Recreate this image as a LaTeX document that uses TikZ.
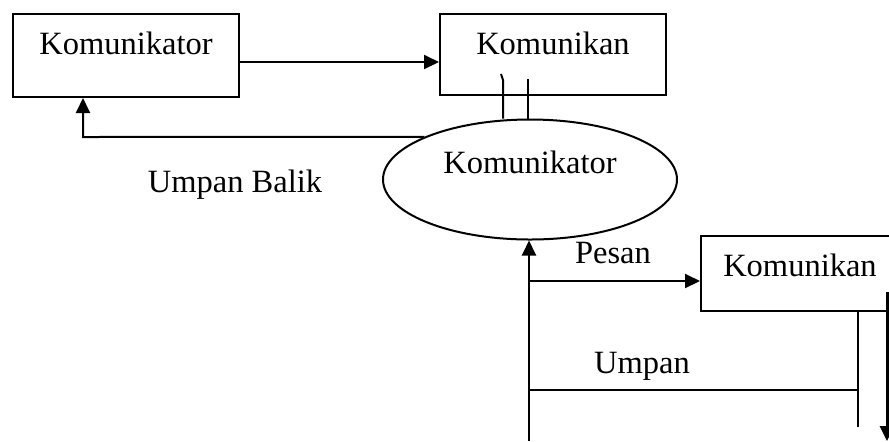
\documentclass[tikz,border=0pt]{standalone}
\usepackage{fontspec}
\setmainfont{Liberation Serif}
\usetikzlibrary{calc, arrows.meta, shapes.geometric}

\tikzset{
    kotak/.style={draw, line width=1pt, inner sep=0pt, minimum width=113pt,
        text height=20pt, text depth=20.5pt, anchor=north west},
    elips/.style={draw, ellipse, line width=1pt, inner sep=0pt,
        minimum width=147pt, minimum height=60pt, text height=10pt, text depth=16.5pt},
    panah/.style={-{Triangle[length=7.5pt, width=7pt]}, line width=1pt},
    garis/.style={line width=1pt},
    teks/.style={anchor=base, inner sep=0pt}
}

\begin{document}
\begin{tikzpicture}[x=0.5pt, y=-0.5pt, font=\fontsize{16.25}{19}\selectfont]
    % Define the frame of the picture
    \clip (0,0) rectangle (889,441);

    % The boxes and the ellipse
    \node[kotak, text depth=21.5pt] (kom1) at (12,13) {Komunikator};
    \node[kotak] (kom2) at (439,13) {Komunikan};
    \node[elips] (kom3) at (530,179.5) {Komunikator};
    \node[kotak, minimum width=99pt, text depth=17.5pt] (kom4) at (700,235) {Komunikan};

    % Define the bend points
    \coordinate (ub) at (83,137);     % feedback corner
    \coordinate (g1) at (501,74);     % first line into Komunikan
    \coordinate (g2) at (503,80);
    \coordinate (g3) at (528,79);     % second line into Komunikan
    \coordinate (bawah) at (529,441); % foot of the long upright
    \coordinate (p1) at (529,281);    % Pesan
    \coordinate (u1) at (529,390);    % Umpan
    \coordinate (u2) at (858,390);
    \coordinate (u3) at (858,427);
    \coordinate (k1) at (887,292);    % right arrow
    \coordinate (k2) at (887,441);

    % Arrow from Komunikator to Komunikan
    \draw[panah] (kom1.east |- 0,62) -- (kom2.west |- 0,62);

    % Feedback back to Komunikator
    \draw[panah] (kom3.158) -- (ub) -- (ub |- kom1.south);

    % Two lines between Komunikan and the ellipse
    \draw[garis] (g1) -- (g2) -- (g2 |- kom3.north);
    \draw[garis] (g3) -- (g3 |- kom3.north);

    % Lower part
    \draw[panah] (bawah) -- (bawah |- kom3.south);
    \draw[panah] (p1) -- (p1 -| kom4.west);
    \draw[garis] (u1) -- (u2);
    \draw[garis] (u2 |- kom4.south) -- (u3);
    \draw[panah, line width=1.5pt] (k1) -- (k2);

    % Add labels
    \node[teks] (lbl1) at (235,192) {Umpan Balik};
    \node[teks] (lbl2) at (613,263) {Pesan};
    \node[teks] (lbl3) at (642,373) {Umpan};
\end{tikzpicture}
\end{document}
